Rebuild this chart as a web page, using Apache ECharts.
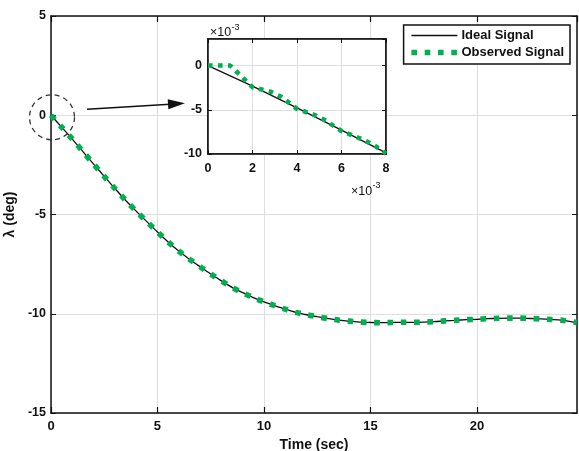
<!DOCTYPE html>
<html>
<head>
<meta charset="utf-8">
<script src="https://cdn.jsdelivr.net/npm/echarts/dist/echarts.min.js"></script>
<style>
html, body { margin: 0; padding: 0; background: #fff; }
#main { width: 579px; height: 451px; }
</style>
</head>
<body>
<div id="main"></div>
<script>
// main plot
const timeMain = [0, 0.5, 1, 1.5, 2, 2.5, 3, 3.5, 4, 4.5, 5, 5.5, 6, 6.5, 7, 7.5, 8, 8.5, 9, 9.5,
  10, 10.5, 11, 11.5, 12, 12.5, 13, 13.5, 14, 14.5, 15, 15.5, 16, 16.5, 17, 17.5, 18, 18.5, 19, 19.5,
  20, 20.5, 21, 21.5, 22, 22.5, 23, 23.5, 24, 24.7];
const idealMain = [0, -0.6, -1.2, -1.83, -2.46, -3.08, -3.69, -4.28, -4.83, -5.36, -5.88, -6.38, -6.84, -7.25, -7.63, -8.0, -8.34, -8.67, -8.94, -9.19,
  -9.4, -9.59, -9.77, -9.93, -10.05, -10.15, -10.24, -10.32, -10.37, -10.42, -10.44, -10.45, -10.44, -10.43, -10.43, -10.42, -10.4, -10.36, -10.33, -10.3,
  -10.28, -10.25, -10.23, -10.22, -10.22, -10.24, -10.26, -10.29, -10.33, -10.44];
const observedMain = [0, -0.6, -1.2, -1.83, -2.46, -3.08, -3.69, -4.28, -4.83, -5.36, -5.88, -6.38, -6.84, -7.25, -7.63, -8.0, -8.34, -8.67, -8.94, -9.19,
  -9.4, -9.59, -9.77, -9.93, -10.05, -10.15, -10.24, -10.32, -10.37, -10.42, -10.44, -10.45, -10.44, -10.43, -10.43, -10.42, -10.4, -10.36, -10.33, -10.3,
  -10.28, -10.25, -10.23, -10.22, -10.22, -10.24, -10.26, -10.29, -10.33, -10.44];

// zoomed inset, both axes in units of 1e-3
const timeInsetIdeal = [0, 2, 4, 6, 8];
const idealInset = [0, -2.32, -4.78, -7.3, -9.88];
const timeInsetObs = [0, 1, 2, 2.8, 3.3, 4, 4.8, 5.2, 6, 6.8, 7.4, 8];
const observedInset = [0, 0, -2.45, -2.95, -3.55, -4.9, -5.6, -6.1, -7.4, -8.2, -8.9, -9.95];

const seriesNames = ['Ideal Signal', 'Observed Signal'];
const xTitle = 'Time (sec)';
const yTitle = 'λ (deg)';
const expLabel = '-3';

const font = 'Liberation Sans, Arial, sans-serif';
const ink = '#111';
const green = '#00b050';
const gridGray = '#dedede';

function pairs(xs, ys) { return xs.map((x, i) => [x, ys[i]]); }

function valAxis(extra) {
  return Object.assign({
    type: 'value',
    axisLine: { show: true, onZero: false, lineStyle: { color: ink, width: 1.5 } },
    axisTick: { show: true, inside: true, length: 6, lineStyle: { color: ink, width: 1.2 } },
    axisLabel: { color: ink, fontFamily: font, fontWeight: 'bold', fontSize: 12.5, showMaxLabel: true },
    splitLine: { show: true, lineStyle: { color: gridGray, width: 1 } }
  }, extra);
}
function boxAxis(extra) {
  return Object.assign(valAxis(extra), {
    axisLabel: { show: false },
    splitLine: { show: false }
  });
}

const chart = echarts.init(document.getElementById('main'), null, { renderer: 'canvas' });

const option = {
  backgroundColor: '#fff',
  animation: false,
  grid: [
    { left: 51, right: 2, top: 16, bottom: 38, containLabel: false, outerBoundsMode: 'none' },
    { left: 208, right: 193, top: 39, bottom: 297, containLabel: false, outerBoundsMode: 'none',
      show: true, backgroundColor: '#fff', borderColor: ink, borderWidth: 1.5, z: 5 }
  ],
  xAxis: [
    valAxis({ gridIndex: 0, min: 0, max: 24.7, interval: 5,
      name: xTitle, nameLocation: 'middle', nameGap: 24,
      nameTextStyle: { color: ink, fontFamily: font, fontWeight: 'bold', fontSize: 14 },
      axisLabel: { color: ink, fontFamily: font, fontWeight: 'bold', fontSize: 13, margin: 7, showMaxLabel: false } }),
    boxAxis({ gridIndex: 0, position: 'top', min: 0, max: 24.7, interval: 5 }),
    valAxis({ gridIndex: 1, min: 0, max: 8, interval: 2, z: 6,
      axisTick: { show: true, inside: true, length: 4, lineStyle: { color: ink } },
      axisLabel: { color: ink, fontFamily: font, fontWeight: 'bold', fontSize: 12.5, margin: 8 } }),
    boxAxis({ gridIndex: 1, position: 'top', min: 0, max: 8, interval: 2, z: 6,
      axisTick: { show: true, inside: true, length: 4, lineStyle: { color: ink } } })
  ],
  yAxis: [
    valAxis({ gridIndex: 0, min: -15, max: 5, interval: 5,
      name: yTitle, nameLocation: 'middle', nameGap: 27,
      nameTextStyle: { color: ink, fontFamily: font, fontWeight: 'bold', fontSize: 14 },
      axisTick: { show: true, inside: true, length: 5, lineStyle: { color: ink } },
      axisLabel: { color: ink, fontFamily: font, fontWeight: 'bold', fontSize: 12.5, margin: 5 } }),
    boxAxis({ gridIndex: 0, position: 'right', min: -15, max: 5, interval: 5,
      axisTick: { show: true, inside: true, length: 5, lineStyle: { color: ink } } }),
    valAxis({ gridIndex: 1, min: -10, max: 3, interval: 5, z: 6,
      axisTick: { show: true, inside: true, length: 4, lineStyle: { color: ink } },
      axisLabel: { color: ink, fontFamily: font, fontWeight: 'bold', fontSize: 12.5, margin: 6, showMaxLabel: false } }),
    boxAxis({ gridIndex: 1, position: 'right', min: -10, max: 3, interval: 5, z: 6,
      axisTick: { show: true, inside: true, length: 4, lineStyle: { color: ink } } })
  ],
  legend: {
    orient: 'vertical',
    right: 9,
    top: 25,
    padding: [4, 6, 5, 5],
    itemWidth: 46,
    itemHeight: 14,
    itemGap: 4,
    backgroundColor: '#fff',
    borderColor: ink,
    borderWidth: 1.5,
    borderRadius: 0,
    data: seriesNames,
    itemStyle: { opacity: 0 },
    lineStyle: { width: 'inherit', type: 'inherit' },
    textStyle: { color: ink, fontFamily: font, fontWeight: 'bold', fontSize: 13, padding: [0, 0, 0, -1] },
    z: 10
  },
  series: [
    { name: seriesNames[0], type: 'line', xAxisIndex: 0, yAxisIndex: 0,
      data: pairs(timeMain, idealMain), symbol: 'none', smooth: 0.3,
      lineStyle: { color: ink, width: 1.3 }, itemStyle: { color: ink }, z: 2 },
    { name: seriesNames[1], type: 'line', xAxisIndex: 0, yAxisIndex: 0,
      data: pairs(timeMain, observedMain), symbol: 'none', smooth: 0.3,
      lineStyle: { color: green, width: 5.6, type: [5.6, 7.7], cap: 'butt' }, itemStyle: { color: green }, z: 3 },
    { name: seriesNames[0], type: 'line', xAxisIndex: 2, yAxisIndex: 2,
      data: pairs(timeInsetIdeal, idealInset), symbol: 'none',
      lineStyle: { color: ink, width: 1.3 }, itemStyle: { color: ink }, z: 7 },
    { name: seriesNames[1], type: 'line', xAxisIndex: 2, yAxisIndex: 2,
      data: pairs(timeInsetObs, observedInset), symbol: 'none',
      lineStyle: { color: green, width: 4.6, type: [4.6, 5.4], cap: 'butt' }, itemStyle: { color: green }, z: 8 }
  ]
};
chart.setOption(option);

// annotation: dashed circle around the origin and an arrow towards the inset
const origin = chart.convertToPixel({ xAxisIndex: 0, yAxisIndex: 0 }, [0, 0]);
const cx = origin[0] + 1, cy = origin[1] + 2;
const tip = [185, 103.3], tail = [87, 109.3];
const dx = tip[0] - tail[0], dy = tip[1] - tail[1];
const len = Math.sqrt(dx * dx + dy * dy), ux = dx / len, uy = dy / len;
const headLen = 17, headHalf = 5;
const bx = tip[0] - ux * headLen, by = tip[1] - uy * headLen;
const textStyleBase = { fill: ink, fontFamily: font };

chart.setOption({
  graphic: [
    { type: 'circle', shape: { cx: cx, cy: cy, r: 22.5 }, silent: true, z: 20,
      style: { fill: 'none', stroke: '#333', lineWidth: 1.3, lineDash: [5, 4] } },
    { type: 'line', shape: { x1: tail[0], y1: tail[1], x2: bx + ux * 2, y2: by + uy * 2 }, silent: true, z: 20,
      style: { stroke: ink, lineWidth: 1.6 } },
    { type: 'polygon', silent: true, z: 20,
      shape: { points: [tip, [bx - uy * headHalf, by + ux * headHalf], [bx + uy * headHalf, by - ux * headHalf]] },
      style: { fill: ink } },
    { type: 'text', x: 210, y: 32.5, silent: true, z: 20,
      style: Object.assign({ text: '×10', fontSize: 12.5, verticalAlign: 'middle' }, textStyleBase) },
    { type: 'text', x: 231.5, y: 27.5, silent: true, z: 20,
      style: Object.assign({ text: expLabel, fontSize: 9, verticalAlign: 'middle' }, textStyleBase) },
    { type: 'text', x: 351, y: 191.5, silent: true, z: 20,
      style: Object.assign({ text: '×10', fontSize: 12.5, verticalAlign: 'middle' }, textStyleBase) },
    { type: 'text', x: 372.5, y: 186, silent: true, z: 20,
      style: Object.assign({ text: expLabel, fontSize: 9, verticalAlign: 'middle' }, textStyleBase) }
  ]
});
</script>
</body>
</html>
